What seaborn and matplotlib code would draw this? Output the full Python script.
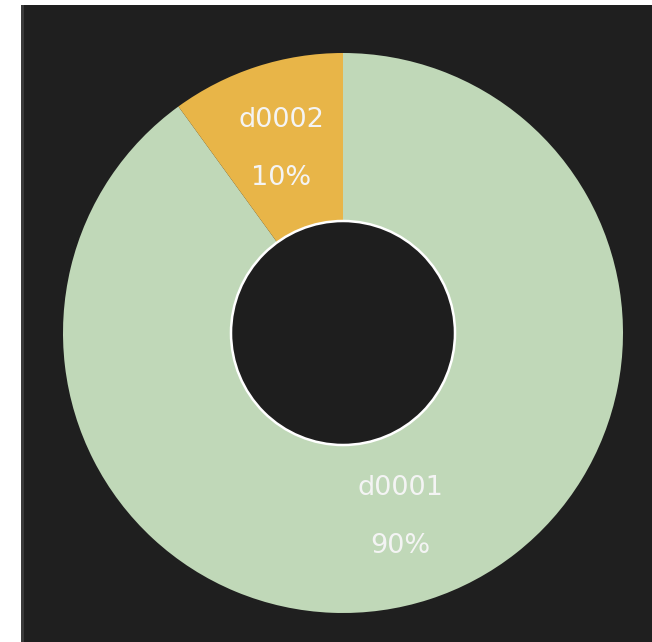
import matplotlib
matplotlib.use("Agg")
import matplotlib.pyplot as plt
import seaborn as sns
import numpy as np
from matplotlib.patches import Rectangle, Circle

names = ["d0001", "d0002"]
values = [90, 10]
colors = ["#c0d8b8", "#e8b548"]

sns.set_theme(style="dark")
plt.rcParams['font.family'] = ['DejaVu Sans']

W, H = 652, 642
fig = plt.figure(figsize=(W / 100, H / 100), dpi=100, facecolor="white")
# dark panel background
fig.patches.append(Rectangle((21 / W, 0), 1 - 21 / W, 1 - 5 / H, transform=fig.transFigure,
                             facecolor="#1f1f1f", edgecolor="none", zorder=-10))
fig.patches.append(Rectangle((21 / W, 0), 3 / W, 1 - 5 / H, transform=fig.transFigure,
                             facecolor="#3a3a3a", edgecolor="none", zorder=-10))

cx, cy, R = 343, 333, 280
ax = fig.add_axes([(cx - R) / W, (H - cy - R) / H, 2 * R / W, 2 * R / H], zorder=5)
ax.set_facecolor("none")
ax.patch.set_alpha(0)

wedges, _ = ax.pie(values, colors=colors, startangle=90, counterclock=False,
                   radius=1.0, wedgeprops=dict(width=0.6, edgecolor="none", linewidth=0))
ax.add_patch(Circle((0, 0), 0.4, facecolor="#1e1e1e", edgecolor="white", linewidth=1.8, zorder=5))

total = sum(values)
for w, name, v in zip(wedges, names, values):
    ang = np.deg2rad((w.theta1 + w.theta2) / 2)
    r = 0.69
    x, y = r * np.cos(ang), r * np.sin(ang)
    ax.annotate(name, (x, y), xytext=(-2, 29), textcoords="offset pixels",
                ha="center", va="center", color="#f4f4f4", fontsize=19.5)
    ax.annotate(f"{round(100 * v / total)}%", (x, y), xytext=(-2, -29), textcoords="offset pixels",
                ha="center", va="center", color="#f4f4f4", fontsize=19.5)

ax.set_xlim(-1, 1)
ax.set_ylim(-1, 1)
ax.set_aspect("equal")
ax.axis("off")

fig.savefig("out.png", dpi=100, facecolor=fig.get_facecolor())
